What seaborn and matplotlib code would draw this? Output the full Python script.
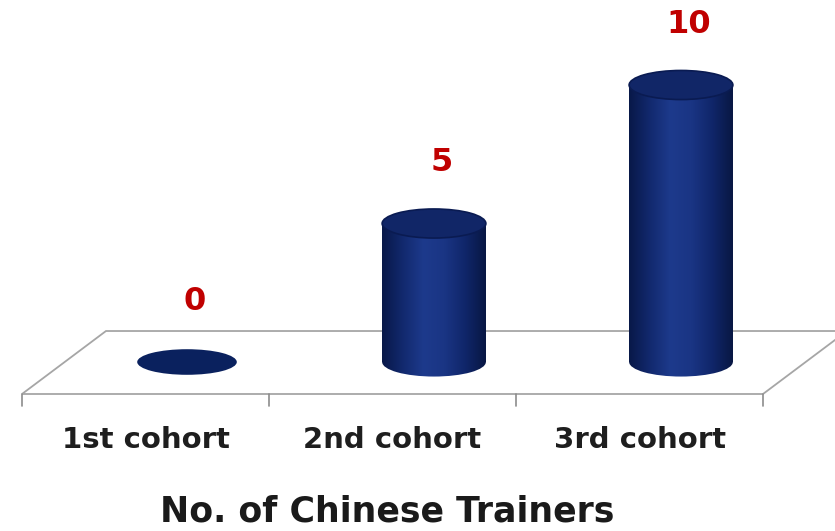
import numpy as np
import matplotlib
matplotlib.use('Agg')
import matplotlib.pyplot as plt
from matplotlib.patches import Ellipse, Polygon
from matplotlib.colors import LinearSegmentedColormap
import seaborn as sns

# data
categories = ['1st cohort', '2nd cohort', '3rd cohort']
values = [0, 5, 10]
value_labels = ['0', '5', '10']
title = 'No. of Chinese Trainers'

sns.set_theme(style='white')
plt.rcParams['font.family'] = ['DejaVu Sans']

fig = plt.figure(figsize=(8.35, 5.31), dpi=100)
ax = fig.add_axes([0, 0, 1, 1])

bar_w = 0.42
ell_h = 1.05
depth = 0.168  # offset of the cylinders behind the category slot

# cylinders bodies drawn by seaborn
sns.barplot(x=categories, y=values, width=bar_w, color='#0d2260', ax=ax,
            saturation=1, zorder=2.5)

body_cmap = LinearSegmentedColormap.from_list(
    'body', ['#081848', '#12296e', '#1d3a8c', '#1a3584', '#10266a', '#081743'])
grad = np.linspace(0, 1, 256).reshape(1, -1)

for bar, v, lab in zip(ax.patches[:len(values)], values, value_labels):
    x0 = bar.get_x()
    w = bar.get_width()
    xc = x0 + w / 2
    bar.set_edgecolor('none')
    if v > 0:
        # bottom half ellipse with gradient
        bottom = Ellipse((xc, 0), w, ell_h, facecolor='none', edgecolor='none', zorder=2)
        ax.add_patch(bottom)
        im = ax.imshow(grad, cmap=body_cmap, aspect='auto', zorder=2,
                       extent=[x0, x0 + w, -ell_h / 2, ell_h / 2])
        im.set_clip_path(bottom)
        # body gradient
        im2 = ax.imshow(grad, cmap=body_cmap, aspect='auto', zorder=3,
                        extent=[x0, x0 + w, 0, v])
        im2.set_clip_path(bar)
        # top
        top = Ellipse((xc, v), w, ell_h, facecolor='#112667', edgecolor='#0a1b52',
                      lw=1.2, zorder=4)
        ax.add_patch(top)
    else:
        ax.add_patch(Ellipse((xc, v), w * 0.96, ell_h * 0.88, facecolor='#0a215e',
                             edgecolor='none', zorder=4))
    ax.text(xc + 0.03, v + 2.2, lab, ha='center', va='center',
            fontsize=23, fontweight='bold', color='#c00000', zorder=5)

# floor of the 3D chart
n = len(categories)
front_y, back_y = -1.155, 1.119
left_front = -0.5 - depth
right_front = n - 0.5 - depth
shift = 0.34
floor = Polygon([[left_front, front_y], [right_front, front_y],
                 [right_front + shift, back_y], [left_front + shift, back_y]],
                closed=True, facecolor='white', edgecolor='#a6a6a6', lw=1.3, zorder=1)
ax.add_patch(floor)

for b in np.arange(n + 1) - 0.5 - depth:
    ax.plot([b, b], [front_y, front_y - 0.45], color='#8c8c8c', lw=1.2, zorder=1)

for i, c in enumerate(categories):
    ax.text(i - depth, -2.82, c, ha='center', va='center', fontsize=21,
            fontweight='bold', color='#1e1e1e')

ax.text((left_front + right_front) / 2 - 0.02, -5.38, title, ha='center', va='center',
        fontsize=25, fontweight='bold', color='#1a1a1a')

ax.set_xlim(-0.7571, 2.6235)
ax.set_ylim(-6.101, 13.069)
ax.axis('off')

fig.savefig('out.png', dpi=100)
